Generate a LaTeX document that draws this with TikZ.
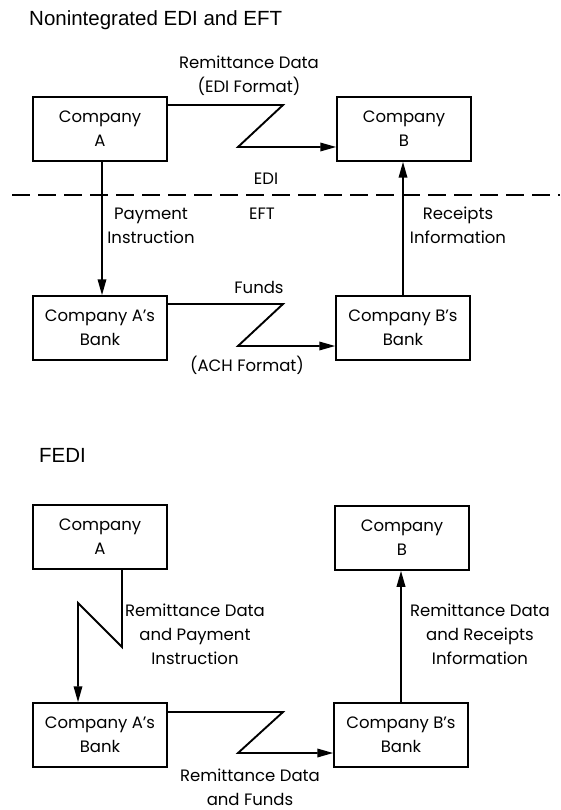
\documentclass[tikz,border=0pt]{standalone}
\usepackage{fontspec}
\newfontfamily\geofont{Poppins}
\newfontfamily\headfont{Liberation Sans}
\usetikzlibrary{arrows.meta}
\begin{document}
\begin{tikzpicture}[x=1pt,y=-1pt,
  box/.style={draw, line width=1.5pt, minimum width=134pt, minimum height=64pt,
    inner sep=0pt, align=center, font=\geofont\fontsize{16.5}{24}\selectfont},
  lbl/.style={inner sep=0pt, align=center, font=\geofont\fontsize{16.5}{24}\selectfont},
  head/.style={inner sep=0pt, anchor=west, font=\headfont\fontsize{20.5}{24}\selectfont},
  link/.style={line width=1.9pt, line join=miter},
  arr/.style={link, -{Triangle[length=16pt,width=8.5pt]}},
  divider/.style={line width=1.9pt, dash pattern=on 18pt off 8pt},
]
\useasboundingbox (0,0) rectangle (560,810);

% ---------- Nonintegrated EDI and EFT ----------
\node[head] (t1) at (29,20) {Nonintegrated EDI and EFT};

\node[box] (A)  at (100,129) {Company\\A};
\node[box] (B)  at (404,129) {Company\\B};
\node[box] (AB) at (100,328) {Company A’s\\Bank};
\node[box] (BB) at (403,328) {Company B’s\\Bank};

% EDI / EFT boundary
\coordinate (dl) at (12,195);
\coordinate (dr) at (560,195);
\draw[divider] (dl) -- (dr);

% remittance data, company to company
\coordinate (k1) at (283,105);
\coordinate (k2) at (238,147);
\draw[arr] (A.east |- k1) -- (k1) -- (k2) -- (B.west |- k2);

% funds, bank to bank
\coordinate (k3) at (283,304);
\coordinate (k4) at (238,346);
\draw[arr] (AB.east |- k3) -- (k3) -- (k4) -- (BB.west |- k4);

% payment instruction and receipts information
\draw[arr] ([xshift=2pt]A.south) -- ([xshift=2pt]AB.north);
\draw[arr] (BB.north) -- (BB.north |- B.south);

\node[lbl] (l1) at (249,75.5) {Remittance Data\\(EDI Format)};
\node[lbl] (l2) at (266,179) {EDI};
\node[lbl] (l3) at (262,214) {EFT};
\node[lbl] (l4) at (151,225.5) {Payment\\Instruction};
\node[lbl] (l5) at (458,225.5) {Receipts\\Information};
\node[lbl] (l6) at (259,287) {Funds};
\node[lbl] (l7) at (247,365) {(ACH Format)};

% ---------- FEDI ----------
\node[head] (t2) at (39,455) {FEDI};

\node[box] (FA)  at (100,537) {Company\\A};
\node[box] (FB)  at (402,538) {Company\\B};
\node[box] (FAB) at (100,735) {Company A’s\\Bank};
\node[box] (FBB) at (401,735) {Company B’s\\Bank};

% remittance data and payment instruction
\coordinate (n1) at (122,647);
\coordinate (n2) at (78,603);
\draw[arr] (FA.south -| n1) -- (n1) -- (n2) -- (FAB.north -| n2);

% remittance data and funds
\coordinate (k5) at (283,712);
\coordinate (k6) at (238,753);
\draw[arr] (FAB.east |- k5) -- (k5) -- (k6) -- (FBB.west |- k6);

% remittance data and receipts information
\draw[arr] (FBB.north) -- (FBB.north |- FB.south);

\node[lbl] (m1) at (195,634) {Remittance Data\\and Payment\\Instruction};
\node[lbl] (m2) at (480,634) {Remittance Data\\and Receipts\\Information};
\node[lbl] (m3) at (250,787.5) {Remittance Data\\and Funds};
\end{tikzpicture}
\end{document}
